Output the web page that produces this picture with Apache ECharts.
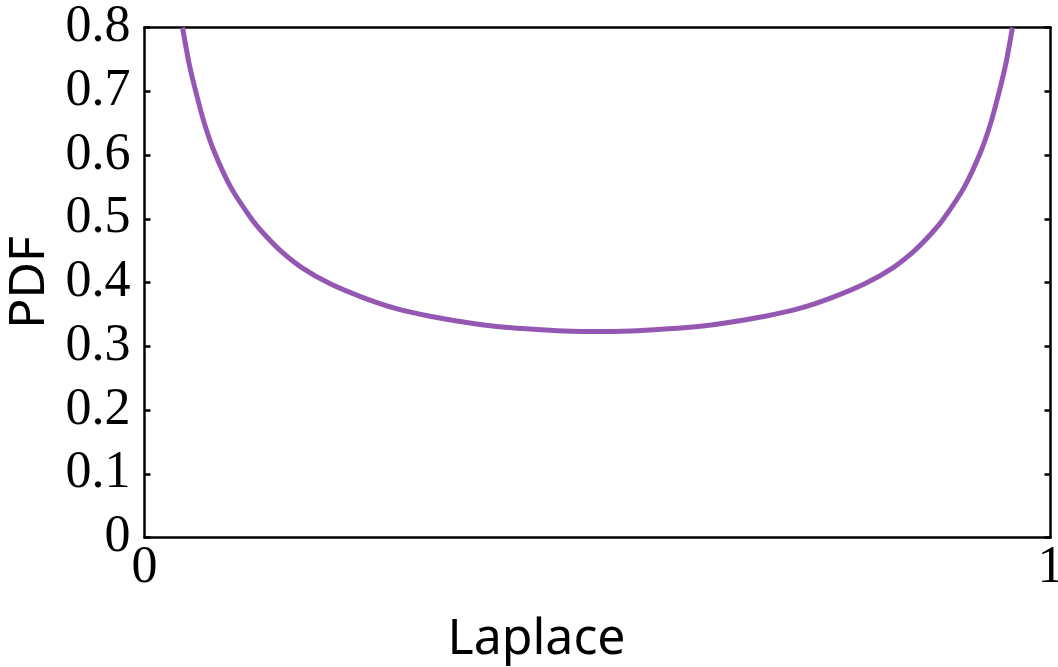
<!DOCTYPE html>
<html>
<head>
<meta charset="utf-8">
<script src="https://cdn.jsdelivr.net/npm/echarts@6/dist/echarts.min.js"></script>
<style>
html,body{margin:0;padding:0;background:#fff;}
#c{width:1058px;height:667px;}
</style>
</head>
<body>
<div id="c"></div>
<script>
// values
var xValues = [0.042, 0.049, 0.0565, 0.066, 0.077, 0.095, 0.118, 0.132, 0.150, 0.174, 0.205, 0.242, 0.278, 0.315, 0.352, 0.389, 0.426, 0.463, 0.500,
               0.537, 0.574, 0.611, 0.648, 0.685, 0.722, 0.758, 0.795, 0.826, 0.850, 0.868, 0.882, 0.905, 0.923, 0.934, 0.9435, 0.951, 0.958];
var pdfValues = [0.800, 0.745, 0.700, 0.650, 0.605, 0.550, 0.500, 0.476, 0.450, 0.423, 0.398, 0.376, 0.359, 0.347, 0.338, 0.331, 0.327, 0.324, 0.323,
                 0.324, 0.327, 0.331, 0.338, 0.347, 0.359, 0.376, 0.398, 0.423, 0.450, 0.476, 0.500, 0.550, 0.605, 0.650, 0.700, 0.745, 0.800];
var xTicks = [0, 1];
var yTicks = [0, 0.1, 0.2, 0.3, 0.4, 0.5, 0.6, 0.7, 0.8];
var xTitle = 'Laplace';
var yTitle = 'PDF';

var points = xValues.map(function (x, i) { return [x, pdfValues[i]]; });

var serif = '"Liberation Serif", "DejaVu Serif", serif';
var sans = '"Noto Sans", "Open Sans", sans-serif';
var lineStyle = { color: '#000', width: 2.5 };

var chart = echarts.init(document.getElementById('c'), null, { renderer: 'canvas' });
chart.setOption({
  animation: false,
  backgroundColor: '#fff',
  grid: { left: 144.5, right: 7.5, top: 27.5, bottom: 129.5, containLabel: false, outerBoundsMode: 'none' },
  xAxis: [{
    type: 'value', min: xTicks[0], max: xTicks[xTicks.length - 1], interval: 1,
    position: 'bottom',
    axisLine: { show: true, onZero: false, lineStyle: lineStyle },
    axisTick: { show: false },
    splitLine: { show: false },
    axisLabel: { show: true, color: '#000', fontFamily: serif, fontSize: 52, margin: 5,
      formatter: function (v) { return String(v); } },
    name: xTitle, nameLocation: 'middle', nameGap: 77,
    nameTextStyle: { fontFamily: sans, fontSize: 50, color: '#000', padding: [0, 122, 0, 0] }
  }, {
    type: 'value', min: 0, max: 1, position: 'top',
    axisLine: { show: true, onZero: false, lineStyle: lineStyle },
    axisTick: { show: false }, axisLabel: { show: false }, splitLine: { show: false }
  }],
  yAxis: [{
    type: 'value', min: yTicks[0], max: yTicks[yTicks.length - 1], interval: 0.1,
    position: 'left',
    axisLine: { show: true, onZero: false, lineStyle: lineStyle },
    axisTick: { show: true, inside: true, length: 6, lineStyle: lineStyle },
    splitLine: { show: false },
    axisLabel: { show: true, color: '#000', fontFamily: serif, fontSize: 52, margin: 14,
      formatter: function (v) { return String(Math.round(v * 10) / 10); } },
    name: yTitle, nameLocation: 'middle', nameGap: 76, nameRotate: 90,
    nameTextStyle: { fontFamily: sans, fontSize: 50, color: '#000' }
  }, {
    type: 'value', min: yTicks[0], max: yTicks[yTicks.length - 1], interval: 0.1,
    position: 'right',
    axisLine: { show: true, onZero: false, lineStyle: lineStyle },
    axisTick: { show: true, inside: true, length: 6, lineStyle: lineStyle },
    splitLine: { show: false }, axisLabel: { show: false }
  }],
  series: [{
    type: 'line',
    data: points,
    xAxisIndex: 0, yAxisIndex: 0,
    smooth: 0.3,
    showSymbol: false,
    clip: true,
    lineStyle: { color: '#9558b2', width: 5 }
  }]
});
</script>
</body>
</html>
